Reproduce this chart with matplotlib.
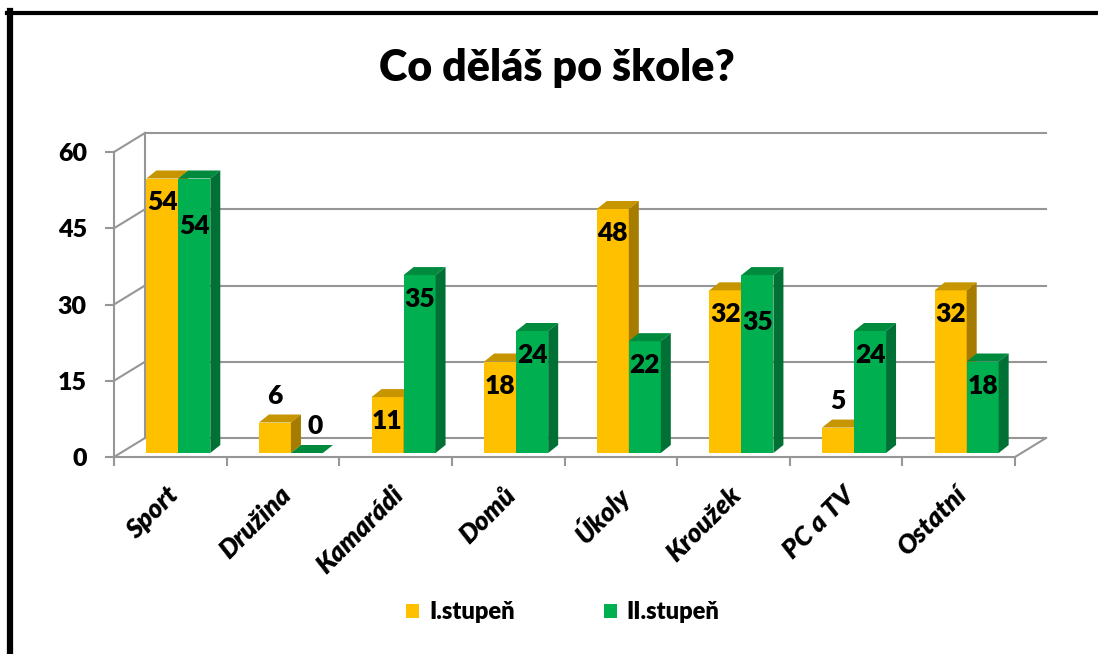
import matplotlib
matplotlib.use("Agg")
import matplotlib.pyplot as plt
from matplotlib.patches import Polygon, Patch
from matplotlib.lines import Line2D
from matplotlib.transforms import IdentityTransform, offset_copy
import numpy as np

# ---------------- data ----------------
categories = ["Sport", "Družina", "Kamarádi", "Domů", "Úkoly", "Kroužek", "PC a TV", "Ostatní"]
series_names = ["I.stupeň", "II.stupeň"]
stupen1 = [54, 6, 11, 18, 48, 32, 5, 32]
stupen2 = [54, 0, 35, 24, 22, 35, 24, 18]
y_ticks = [0, 15, 30, 45, 60]
title_text = "Co děláš po škole?"

# ---------------- style ----------------
W, H, DPI = 1098, 654, 100
plt.rcParams['font.family'] = ['Lato', 'DejaVu Sans']
WEIGHT = 'heavy'
GRID = '#969696'
FRONT = ['#FFC000', '#00B050']
TOP = ['#C79500', '#008A3E']
SIDE = ['#A67C00', '#007034']
DEPTH = np.array([31.0, 19.0])      # back wall offset (px)
BAR_SHIFT = np.array([8.0, 4.0])    # bar front-face offset (px)
BAR_D = np.array([10.0, 8.0])       # bar depth (px)
BW = 0.284                          # bar width (data units)

fig = plt.figure(figsize=(W / DPI, H / DPI), dpi=DPI)
fig.patch.set_facecolor('white')
ax = fig.add_axes([114 / W, 1 - 457 / H, 901 / W, 305 / H])
n = len(categories)
ax.set_xlim(0, n)
ax.set_ylim(0, max(y_ticks))
ax.patch.set_visible(False)
for s in ['top', 'right']:
    ax.spines[s].set_visible(False)
for s in ['left', 'bottom']:
    ax.spines[s].set_color(GRID)
    ax.spines[s].set_linewidth(1.5)
    ax.spines[s].set_zorder(1)

ax.set_yticks(y_ticks)
ax.set_yticklabels([str(t) for t in y_ticks], fontsize=18, fontweight=WEIGHT)
ax.tick_params(axis='y', length=6.5, width=1.5, color=GRID, pad=13)
ax.set_xticks(np.arange(n + 1))
ax.set_xticklabels([])
ax.tick_params(axis='x', length=6.5, width=1.5, color=GRID)

ident = IdentityTransform()
back = offset_copy(ax.transData, fig, x=DEPTH[0], y=DEPTH[1], units='dots')

# back wall gridlines
for t in y_ticks:
    ax.plot([0, n], [t, t], color=GRID, lw=1.5, transform=back, zorder=0, clip_on=False)
    p = ax.transData.transform((0, t))
    q = p + DEPTH
    ax.add_line(Line2D([p[0], q[0]], [p[1], q[1]], color=GRID, lw=1.5,
                       transform=ident, zorder=0, clip_on=False))
ax.plot([0, 0], [0, max(y_ticks)], color=GRID, lw=1.5, transform=back, zorder=0, clip_on=False)
p = ax.transData.transform((n, 0))
q = p + DEPTH
ax.add_line(Line2D([p[0], q[0]], [p[1], q[1]], color=GRID, lw=1.5,
                   transform=ident, zorder=0, clip_on=False))

# bars
bar_tr = offset_copy(ax.transData, fig, x=BAR_SHIFT[0], y=BAR_SHIFT[1], units='dots')
x = np.arange(n) + 0.5
series = [stupen1, stupen2]
offs = [-BW / 2, BW / 2]
for k in range(2):
    vals = series[k]
    ax.bar(x + offs[k], vals, width=BW, color=FRONT[k], transform=bar_tr,
           zorder=3 + 2 * k, clip_on=False, linewidth=0)
    for i, v in enumerate(vals):
        xl = x[i] + offs[k] - BW / 2
        xr = x[i] + offs[k] + BW / 2
        tl = ax.transData.transform((xl, v)) + BAR_SHIFT
        tr = ax.transData.transform((xr, v)) + BAR_SHIFT
        br = ax.transData.transform((xr, 0)) + BAR_SHIFT
        top = Polygon([tl, tr, tr + BAR_D, tl + BAR_D], closed=True, fc=TOP[k], ec='none',
                      transform=ident, zorder=3 + 2 * k, clip_on=False)
        side = Polygon([br, tr, tr + BAR_D, br + BAR_D], closed=True, fc=SIDE[k], ec='none',
                       transform=ident, zorder=3 + 2 * k, clip_on=False)
        ax.add_patch(top)
        ax.add_patch(side)

# data labels
for k in range(2):
    vals = series[k]
    for i, v in enumerate(vals):
        xc = x[i] + offs[k]
        p = ax.transData.transform((xc, v)) + BAR_SHIFT
        if v < 8:
            ly = p[1] + 27
            lx = p[0] + (8 if k == 1 else 0)
        else:
            ly = p[1] - 24
            lx = p[0]
            if k == 1 and abs(stupen1[i] - v) <= 3 and stupen1[i] >= 8:
                ly -= 23
        ax.text(lx, ly, str(v), transform=ident, ha='center', va='center',
                fontsize=19, fontweight=WEIGHT, color='black', zorder=10, clip_on=False)

# category labels
cat_tr = offset_copy(ax.transData, fig, x=4, y=-34, units='dots')
for i, c in enumerate(categories):
    ax.text(x[i], 0, c, transform=cat_tr, rotation=45, rotation_mode='anchor',
            ha='right', va='center', fontsize=19, fontweight=WEIGHT, fontstyle='italic')

# title
fig.text(557 / W, 1 - 68 / H, title_text, ha='center', va='center',
         fontsize=31, fontweight=WEIGHT)

# legend
handles = [Patch(facecolor=FRONT[k], edgecolor='none', label=series_names[k]) for k in range(2)]
fig.legend(handles=handles, loc='center', bbox_to_anchor=(563 / W, 1 - 612 / H), ncol=2,
           frameon=False, prop=dict(weight=WEIGHT, size=17), handlelength=0.55,
           handleheight=0.55, handletextpad=0.4, columnspacing=3.8)

# outer border (top and left)
fig.add_artist(Line2D([7 / W, 1], [1 - 12.5 / H, 1 - 12.5 / H], color='black', lw=3,
                      transform=fig.transFigure))
fig.add_artist(Line2D([9.5 / W, 9.5 / W], [0, 1 - 11 / H], color='black', lw=4.5,
                      transform=fig.transFigure))

fig.savefig('out.png', dpi=DPI, facecolor='white')
